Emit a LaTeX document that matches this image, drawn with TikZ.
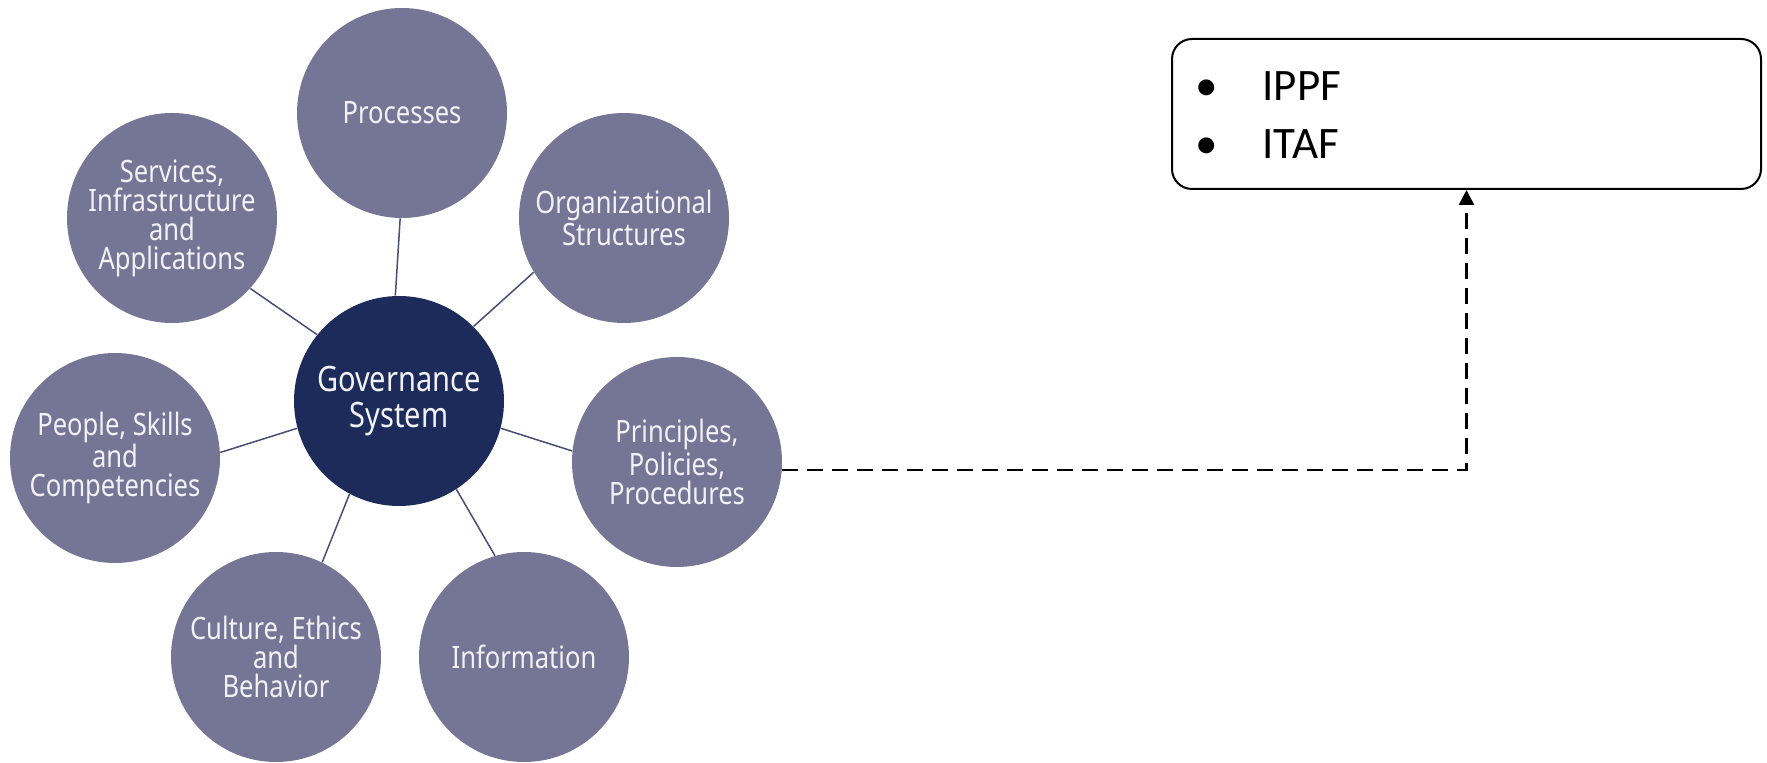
\documentclass[tikz,border=0pt]{standalone}
\usepackage{fontspec}
\usetikzlibrary{arrows.meta}
\newfontfamily\circfont[FakeStretch=0.83]{Noto Sans}
\newfontfamily\boxfont{Carlito}
\definecolor{satc}{RGB}{117,117,150}
\definecolor{govc}{RGB}{29,43,90}
\definecolor{lnc}{RGB}{70,78,118}
\definecolor{txtc}{RGB}{242,242,246}
\tikzset{
  sat/.style={circle, fill=satc, minimum size=105pt, inner sep=0pt, align=center,
    text=txtc, font=\circfont\fontsize{15.4pt}{14.5pt}\selectfont},
  govstyle/.style={circle, fill=govc, minimum size=105pt, inner sep=0pt, align=center,
    text=txtc, font=\circfont\fontsize{17.5pt}{18pt}\selectfont},
  spoke/.style={draw=lnc, line width=0.75pt},
  framebox/.style={draw=black, line width=1pt, rounded corners=10pt, minimum width=294.5pt,
    minimum height=75pt, inner sep=0pt, fill=white},
  boxtxt/.style={anchor=base west, inner sep=0pt, font=\boxfont\fontsize{22.5pt}{29pt}\selectfont},
  bul/.style={anchor=base, inner sep=0pt, font=\boxfont\fontsize{22.5pt}{29pt}\selectfont},
  dashlink/.style={draw=black, line width=1.3pt, dash pattern=on 8pt off 4.5pt,
    -{Triangle[width=7.5pt,length=7.5pt]}}
}
\begin{document}
\begin{tikzpicture}[x=0.5pt,y=-0.5pt]
\useasboundingbox (0,0) rectangle (1767,763);
% circles
\node[govstyle] (gov) at (399,401) {Governance\\System};
\node[sat] (proc) at (402,113) {Processes};
\node[sat] (org) at (624,218) {Organizational\\Structures};
\node[sat] (prin) at (677,462) {Principles,\\Policies,\\Procedures};
\node[sat] (info) at (524,657) {Information};
\node[sat] (cult) at (276,657) {Culture, Ethics\\and\\Behavior};
\node[sat] (peop) at (115,458) {People, Skills\\and\\Competencies};
\node[sat] (serv) at (172,218) {Services,\\Infrastructure\\and\\Applications};
% spokes
\draw[spoke] (proc.-91) -- (gov.92);
\draw[spoke] (serv.-42) -- (gov.141);
\draw[spoke] (org.-149) -- (gov.45);
\draw[spoke] (prin.174.5) -- (gov.-15);
\draw[spoke] (peop.3) -- (gov.-165);
\draw[spoke] (cult.64) -- (gov.-118.5);
\draw[spoke] (info.106) -- (gov.-57.5);
% frame box
\node[framebox] (box) at (1466.5,114) {};
\node[bul] (b1) at (1207,101) {•};
\node[boxtxt] (t1) at (1262,101) {IPPF};
\node[bul] (b2) at (1207,159) {•};
\node[boxtxt] (t2) at (1262,159) {ITAF};
% dashed link
\draw[dashlink] ([yshift=-4pt]prin.east) -| (box.south);
\end{tikzpicture}
\end{document}
